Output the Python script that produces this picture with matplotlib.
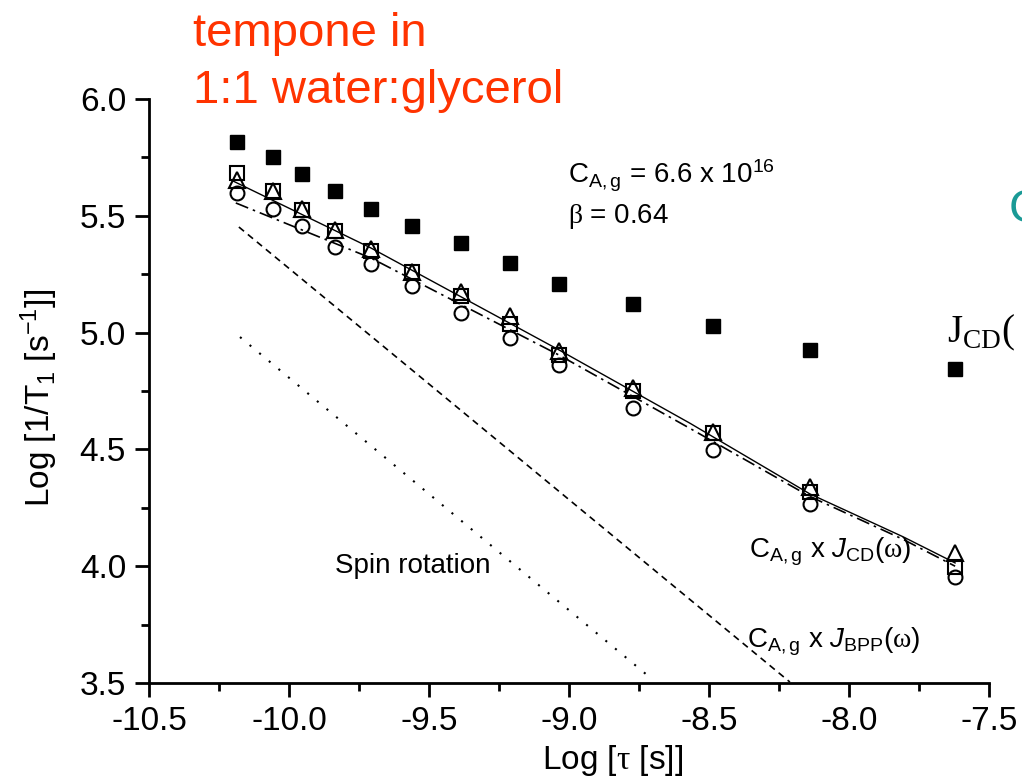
import matplotlib
matplotlib.use("Agg")
import matplotlib.pyplot as plt
from matplotlib.ticker import MultipleLocator, FormatStrFormatter

plt.rcParams['font.family'] = ['Liberation Sans', 'DejaVu Sans']
plt.rcParams['axes.unicode_minus'] = False
plt.rcParams['mathtext.fontset'] = 'custom'
plt.rcParams['mathtext.rm'] = 'Liberation Sans'
plt.rcParams['mathtext.it'] = 'Liberation Sans:italic'
plt.rcParams['mathtext.sf'] = 'Liberation Serif'

# log tau for every measured point
log_tau = [-10.186, -10.057, -9.954, -9.836, -9.707, -9.561, -9.386,
           -9.211, -9.036, -8.771, -8.486, -8.139, -7.621]
# filled squares
filled_sq = [5.816, 5.752, 5.679, 5.606, 5.529, 5.456, 5.384,
             5.296, 5.210, 5.122, 5.028, 4.925, 4.845]
# open squares
open_sq = [5.683, 5.606, 5.525, 5.435, 5.349, 5.259, 5.157,
           5.036, 4.905, 4.748, 4.572, 4.319, 3.997]
# open triangles
open_tri = [5.653, 5.606, 5.529, 5.439, 5.358, 5.259, 5.174,
            5.070, 4.922, 4.762, 4.574, 4.338, 4.056]
# open circles
open_circ = [5.598, 5.529, 5.456, 5.366, 5.294, 5.199, 5.084,
             4.977, 4.861, 4.677, 4.497, 4.266, 3.954]

# model curves
cd_x = [-10.2, -9.707, -9.036, -8.568, -8.139, -7.807, -7.621]
cd_y = [5.649, 5.362, 4.926, 4.612, 4.309, 4.126, 4.014]
cd2_x = [-10.19, -9.707, -9.036, -8.568, -8.139, -7.807, -7.621]
cd2_y = [5.555, 5.319, 4.904, 4.590, 4.298, 4.115, 4.000]
bpp_x = [-10.179, -8.211]
bpp_y = [5.452, 3.504]
spin_x = [-10.175, -8.721]
spin_y = [4.981, 3.534]

fig = plt.figure(figsize=(10.22, 7.82), dpi=100)
ax = fig.add_axes([149/1022, 1 - 683/782, 840/1022, 584/782])

ax.plot(cd_x, cd_y, color='black', lw=1.0, ls='-')
ax.plot(cd2_x, cd2_y, color='black', lw=1.2, ls=(0, (8, 3, 1.5, 3)))
ax.plot(bpp_x, bpp_y, color='black', lw=1.2, ls=(0, (4, 3)))
ax.plot(spin_x, spin_y, color='black', lw=1.5, ls=(0, (1, 5)))

ms = 10
ax.plot(log_tau, filled_sq, ls='none', marker='s', ms=ms, color='black')
ax.plot(log_tau, open_circ, ls='none', marker='o', ms=ms, mfc='none', mec='black', mew=1.5)
ax.plot(log_tau, open_sq, ls='none', marker='s', ms=ms, mfc='none', mec='black', mew=1.5)
ax.plot(log_tau, open_tri, ls='none', marker='^', ms=ms + 1, mfc='none', mec='black', mew=1.5)

ax.set_xlim(-10.5, -7.5)
ax.set_ylim(3.5, 6.0)
ax.xaxis.set_major_locator(MultipleLocator(0.5))
ax.xaxis.set_minor_locator(MultipleLocator(0.25))
ax.yaxis.set_major_locator(MultipleLocator(0.5))
ax.yaxis.set_minor_locator(MultipleLocator(0.25))
ax.xaxis.set_major_formatter(FormatStrFormatter('%.1f'))
ax.yaxis.set_major_formatter(FormatStrFormatter('%.1f'))

for side in ['top', 'right']:
    ax.spines[side].set_visible(False)
for side in ['left', 'bottom']:
    ax.spines[side].set_linewidth(2)
ax.tick_params(which='major', direction='out', length=10, width=2, labelsize=24, pad=6.5)
ax.tick_params(which='minor', direction='out', length=6, width=2)

ax.set_xlabel(r'Log [$\mathsf{\tau}$ [s]]', fontsize=24)
ax.xaxis.set_label_coords((613 - 149) / 840, -(743 - 683) / 584)
ax.set_ylabel(r'Log [1/T$_\mathregular{1}$ [s$^\mathregular{-1}$]]', fontsize=24)
ax.yaxis.set_label_coords(-(149 - 60) / 840, (683 - 398) / 584)

ann = dict(fontsize=20, va='baseline', transform=None)


def px(x, y):
    # figure pixel (from top-left) to figure fraction
    return x / 1022, 1 - y / 782


fig.text(*px(568, 183), r'C$_\mathregular{A,g}$ = 6.6 x 10$^\mathregular{16}$', fontsize=20, va='baseline')
fig.text(*px(568, 223), r'$\mathsf{\beta}$ = 0.64', fontsize=20, va='baseline')
fig.text(*px(335, 573), 'Spin rotation', fontsize=20, va='baseline')
fig.text(*px(749, 557), r'C$_\mathregular{A,g}$ x $J_\mathregular{CD}$($\mathsf{\omega}$)', fontsize=20, va='baseline')
fig.text(*px(747, 647), r'C$_\mathregular{A,g}$ x $J_\mathregular{BPP}$($\mathsf{\omega}$)', fontsize=20, va='baseline')

fig.text(*px(947, 342), r'J$_\mathregular{CD}$(', fontsize=28,
         family='Liberation Serif', va='baseline')
fig.text(*px(1009, 222), 'C', fontsize=34, color='#1a9a96', va='baseline')

fig.text(*px(193, 46), 'tempone in', fontsize=34, color='#ff3300', va='baseline')
fig.text(*px(193, 103), '1:1 water:glycerol', fontsize=34, color='#ff3300', va='baseline')

fig.savefig('out.png', dpi=100)
